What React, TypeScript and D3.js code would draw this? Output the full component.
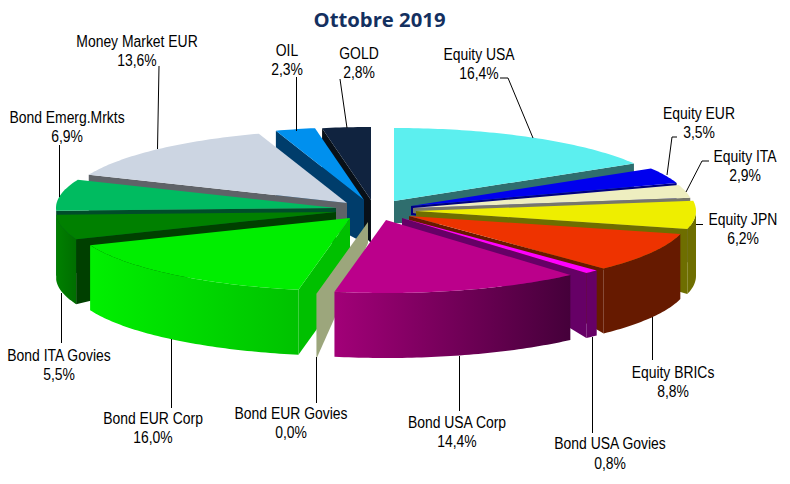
import React from "react";
import * as d3 from "d3";

const titleText = "Ottobre 2019";
const categories = ["Equity USA","Equity EUR","Equity ITA","Equity JPN","Equity BRICs","Bond USA Govies","Bond USA Corp","Bond EUR Govies","Bond EUR Corp","Bond ITA Govies","Bond Emerg.Mrkts","Money Market EUR","OIL","GOLD"];
const shares = [16.4,3.5,2.9,6.2,8.8,0.8,14.4,0.0,16.0,5.5,6.9,13.6,2.3,2.8];
const topColors = ["#5CEFEF","#0000EE","#EEEEC0","#EEEE00","#EE3300","#FF00FF","#BB008B","#9CA67C","#00EE00","#008000","#00BB60","#CCD5E2","#0090EE","#10233F"];
const wallColors = ["#2F6E6E","#000080","#77776A","#6E6E00","#661A00","#660066","#660050","#9CA67C","#00C000","#004000","#004D2A","#5F6368","#003D6B","#081018"];
const rimColors: [string,string][] = [["#2F6E6E","#2F6E6E"],["#000080","#000080"],["#77776A","#77776A"],["#6E6E00","#6E6E00"],["#661A00","#661A00"],["#660066","#660066"],["#45003A","#A20078"],["#9CA67C","#9CA67C"],["#00C200","#00F000"],["#006E00","#008000"],["#004D2A","#004D2A"],["#5F6368","#5F6368"],["#003D6B","#003D6B"],["#081018","#081018"]];

// Layout of the exploded pie (each slice has its own apex)
const apexX = [394,411,413,416,409,402,386,368,350,336,336,347,364,371];
const apexY = [201,206,208,211,216,218,220,222,218,212,208,203,200,200];
const apexDrop = [22,9,5,5,5,8,0,21,65,30,30,30,43,43];
const RX = 280, RY = 73, DEPTH = 65;
const paintOrder = [13,12,11,10,9,8,0,1,2,3,4,5,7,6];

type Leader = [number,number][];
const labelPlace: [number,number,number][] = [
  [479,60,79],[699,119,138],[745,162,181],[743,225,244],[673,378,397],[610,449,469],[457,428,447],
  [291,419,438],[153,424,443],[59,361,380],[67,123,142],[137,47,66],[287,56,75],[359,59,78],
];
const leaders: Leader[] = [
  [[500,78],[508,78],[533,138]],
  [[677,137],[672,137],[667,175]],
  [[709,161],[702,161],[686,192]],
  [[703,224.5],[696,224.5]],
  [[652.5,317],[652.5,360]],
  [[592.5,337],[592.5,433]],
  [[459.5,356],[459.5,411]],
  [[316.5,357],[316.5,403]],
  [[171.5,339],[171.5,408]],
  [[61.5,293],[61.5,343]],
  [[59.5,145],[59.5,197]],
  [[159,66],[157.5,149]],
  [[296.5,77],[296.5,131]],
  [[340,79],[347,128]],
];

const fmt = (v: number) => v.toFixed(1).replace(".", ",") + "%";
const pieLayout = d3.pie<number>().sort(null).startAngle(0).endAngle(2 * Math.PI).value(d => d);
const line = d3.line<[number,number]>().x(d => d[0]).y(d => d[1]);
const STEP = Math.PI / 180;
const sample = (a: number, b: number) => {
  const n = Math.max(1, Math.ceil((b - a) / STEP));
  return d3.range(n + 1).map(i => a + (b - a) * i / n);
};

export default function App() {
  const arcs = pieLayout(shares);
  const sx = 0.87;
  return (
    <svg width={790} height={484} style={{ position: "absolute", left: 0, top: 0, background: "#fff" }}>
      <defs>
        {rimColors.map((c, i) => (
          <linearGradient key={i} id={`rim${i}`} x1="1" x2="0" y1="0" y2="0">
            <stop offset="0" stopColor={c[0]} />
            <stop offset="1" stopColor={c[1]} />
          </linearGradient>
        ))}
      </defs>
      {paintOrder.map(i => {
        const d = arcs[i];
        const ax = apexX[i], ay = apexY[i], drop = apexDrop[i];
        const pt = (t: number): [number,number] => [ax + RX * Math.sin(t), ay - RY * Math.cos(t)];
        const a = d.startAngle, b = d.endAngle;
        const parts: React.ReactNode[] = [];
        const wall = (t: number, key: string) => {
          const p = pt(t);
          parts.push(<path key={key} fill={wallColors[i]} d={line([[ax, ay], p, [p[0], p[1] + DEPTH], [ax, ay + drop]])! + "Z"} />);
        };
        if (Math.sin(a) < 0) wall(a, "s");
        if (Math.sin(b) > 0) wall(b, "e");
        const r0 = Math.max(a, Math.PI / 2), r1 = Math.min(b, 1.5 * Math.PI);
        if (r1 > r0) {
          const ts = sample(r0, r1).map(pt);
          const poly = [...ts, ...ts.slice().reverse().map(p => [p[0], p[1] + DEPTH] as [number,number])];
          parts.push(<path key="r" fill={`url(#rim${i})`} d={line(poly)! + "Z"} />);
        }
        if (b > a) {
          const top: [number,number][] = [[ax, ay], ...sample(a, b).map(pt)];
          parts.push(<path key="t" fill={topColors[i]} d={line(top)! + "Z"} />);
        }
        return <g key={i}>{parts}</g>;
      })}
      {leaders.map((l, i) => (
        <path key={i} d={line(l)!} fill="none" stroke="#000" strokeWidth={1} />
      ))}
      <g fontFamily="'Liberation Sans', Arial, sans-serif" fontSize={16} fill="#000" textAnchor="middle">
        {categories.map((c, i) => {
          const [x, y1, y2] = labelPlace[i];
          return (
            <g key={c}>
              <text transform={`translate(${x},${y1}) scale(${sx},1)`}>{c}</text>
              <text transform={`translate(${x},${y2}) scale(${sx},1)`}>{fmt(shares[i])}</text>
            </g>
          );
        })}
      </g>
      <text x={379.5} y={27} textAnchor="middle" fontFamily="'Open Sans', 'Noto Sans', sans-serif" fontWeight={700} fontSize={20.3} fill="#14305F">{titleText}</text>
    </svg>
  );
}
